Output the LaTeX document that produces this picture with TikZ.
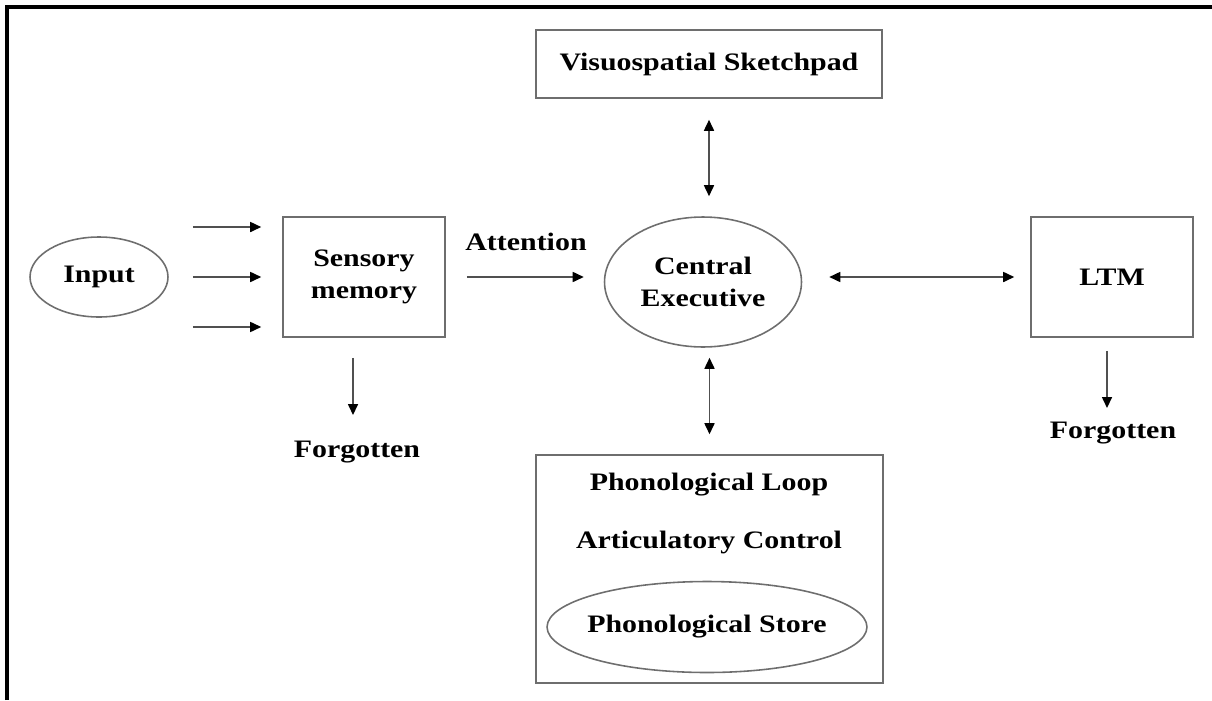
\documentclass[tikz,border=0pt]{standalone}
\usepackage{fontspec}
\setmainfont{Liberation Serif}[FakeStretch=1.19]
\usepackage{tikz}
\usetikzlibrary{arrows.meta,positioning,shapes.geometric}
\definecolor{boxgray}{HTML}{6E6E6E}
\definecolor{linegray}{HTML}{505050}
\tikzset{
  memstore/.style={
    draw=boxgray,
    line width=0.9pt,
    align=center,
    inner sep=0pt
  },
  memoval/.style={
    memstore,
    ellipse
  },
  plainlabel/.style={
    inner sep=1pt,
    align=center
  },
  flowarrow/.style={
    -{Triangle[length=0.22cm,width=0.2cm,color=black]},
    line width=0.9pt,
    draw=linegray
  },
  twowayarrow/.style={
    {Triangle[length=0.22cm,width=0.2cm,color=black]}-{Triangle[length=0.22cm,width=0.2cm,color=black]},
    line width=0.9pt,
    draw=linegray
  }
}

\begin{document}
\begin{tikzpicture}[x=0.02cm, y=-0.02cm,
    font=\fontsize{14.3}{18.5}\selectfont\bfseries]
    \useasboundingbox (0,0) rectangle (1212,700);
    % frame (only top and left edges are in view)
    \draw[line width=2pt] (7,700) -- (7,7) -- (1212,7);

    \node[memoval, minimum width=2.76cm, minimum height=1.6cm] (input) at (99,277) {Input};
    \node[memstore, minimum width=3.24cm, minimum height=2.4cm] (sensory) at (364,277) {Sensory\\memory};
    \node[memoval, minimum width=3.94cm, minimum height=2.6cm] (central) at (703,282) {Central\\Executive};
    \node[memstore, minimum width=6.92cm, minimum height=1.36cm] (sketchpad) at (709,64) {Visuospatial Sketchpad};
    \node[memstore, minimum width=3.24cm, minimum height=2.4cm] (ltm) at (1112,277) {LTM};
    \node[memstore, minimum width=6.94cm, minimum height=4.56cm] (phonoloop) at (709.5,569) {};
    \node[plainlabel] (looptitle) at (709,485) {Phonological Loop};
    \node[plainlabel] (artcontrol) at (709,542) {Articulatory Control};
    \node[memoval, minimum width=6.4cm, minimum height=1.82cm,
        label=center:{Phonological Store}] (phonostore) at (707,627) {};

    \node[plainlabel] (attention) at (526,242) {Attention};
    \node[plainlabel] (forgotsensory) at (357,452) {Forgotten};
    \node[plainlabel] (forgotltm) at (1113,433) {Forgotten};

    \foreach \dy in {1,0,-1}
        \draw[flowarrow, shorten <=0.48cm, shorten >=0.42cm]
            ([yshift=\dy cm]input.east) -- ([yshift=\dy cm]sensory.west);
    \draw[flowarrow, shorten <=0.42cm, shorten >=0.4cm] (sensory.east) -- (sensory.east -| central.west);
    \draw[twowayarrow, shorten <=0.42cm, shorten >=0.4cm] (sketchpad.south) -- (sketchpad.south |- central.north);
    \draw[twowayarrow, shorten <=0.2cm, shorten >=0.4cm] (phonoloop.north |- central.south) -- (phonoloop.north);
    \draw[twowayarrow, shorten <=0.54cm, shorten >=0.32cm] (central.east |- ltm.west) -- (ltm.west);
    \draw[flowarrow, shorten <=0.4cm, shorten >=0.74cm]
        ([xshift=-0.22cm]sensory.south) -- ([xshift=-0.22cm]sensory.south |- forgotsensory.center);
    \draw[flowarrow, shorten <=0.26cm, shorten >=0.5cm]
        ([xshift=-0.1cm]ltm.south) -- ([xshift=-0.1cm]ltm.south |- forgotltm.center);
\end{tikzpicture}
\end{document}
